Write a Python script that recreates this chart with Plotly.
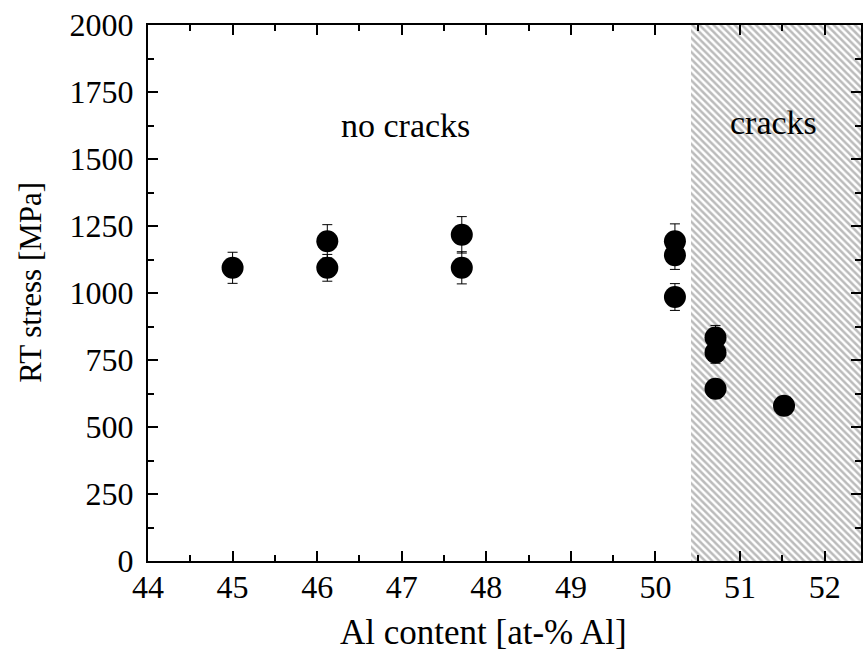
import plotly.graph_objects as go

al_content = [45.0, 46.12, 46.12, 47.71, 47.71, 50.23, 50.23, 50.23, 50.71, 50.71, 50.71, 51.52]
rt_stress = [1094, 1193, 1094, 1217, 1094, 1193, 1141, 985, 834, 778, 643, 579]
stress_err = [58, 62, 50, 68, 60, 65, 53, 50, 45, 40, 35, 30]

crack_start = 50.42
x_range = [44, 52.43]
y_range = [0, 2000]

FONT = "Liberation Serif"

fig = go.Figure()

# hatched "cracks" region
fig.add_trace(go.Scatter(
    x=[crack_start, x_range[1], x_range[1], crack_start, crack_start],
    y=[y_range[0], y_range[0], y_range[1], y_range[1], y_range[0]],
    mode="lines", line=dict(width=0), fill="toself",
    fillcolor="white",
    fillpattern=dict(shape="\\", fgcolor="#777777", bgcolor="white", size=5, solidity=0.5),
    hoverinfo="skip", showlegend=False,
))

fig.add_trace(go.Scatter(
    x=al_content, y=rt_stress, mode="markers",
    marker=dict(size=22, color="black"),
    error_y=dict(type="data", array=stress_err, visible=True, color="black", thickness=1, width=5),
    showlegend=False,
))

fig.add_annotation(x=47.05, y=1625, text="no cracks", showarrow=False,
                   font=dict(family=FONT, size=34, color="black"), xref="x", yref="y")
fig.add_annotation(x=51.39, y=1636, text="cracks", showarrow=False,
                   font=dict(family=FONT, size=34, color="black"), xref="x", yref="y")

# axis titles (placed as in the reference, slightly off-centre)
fig.add_annotation(x=0.47, y=-0.134, xref="paper", yref="paper", text="Al content [at-% Al]",
                   showarrow=False, xanchor="center", yanchor="middle",
                   font=dict(family=FONT, size=35, color="black"))
fig.add_annotation(x=-0.166, y=0.5205, xref="paper", yref="paper", text="RT stress [MPa]",
                   showarrow=False, xanchor="center", yanchor="middle", textangle=-90,
                   font=dict(family=FONT, size=31, color="black"))

axis_common = dict(
    showgrid=False, zeroline=False, showline=True, linecolor="black", linewidth=2,
    mirror="ticks", ticks="inside", ticklen=10, tickwidth=2, tickcolor="black",
    tickfont=dict(family=FONT, size=32, color="black"),
)

fig.update_xaxes(range=x_range, dtick=1, tick0=44,
                 minor=dict(dtick=0.5, ticks="inside", ticklen=6, tickwidth=2, tickcolor="black"),
                 ticklabelstandoff=-3,
                 **axis_common)
fig.update_yaxes(range=y_range, dtick=250, tick0=0,
                 minor=dict(dtick=125, ticks="inside", ticklen=6, tickwidth=2, tickcolor="black"),
                 ticklabelstandoff=6,
                 **axis_common)

fig.update_layout(
    width=863, height=651,
    margin=dict(l=148, r=0, t=25, b=90),
    paper_bgcolor="white", plot_bgcolor="white",
    font=dict(family=FONT, color="black"),
)

fig.write_html("out.html")
